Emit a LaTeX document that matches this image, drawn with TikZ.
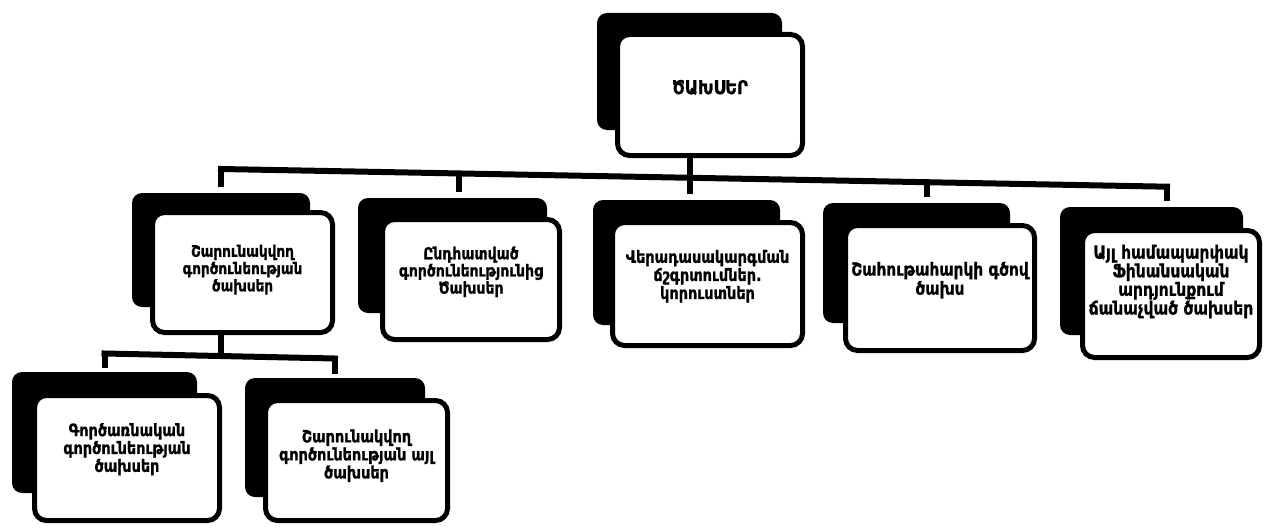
\documentclass[tikz,border=0pt]{standalone}
\usepackage{fontspec}
\newfontfamily\arm{DejaVu Sans}[FakeStretch=0.85, BoldFeatures={FakeBold=1}]
\usetikzlibrary{backgrounds}
\newcommand{\uptext}[2]{\raisebox{#1}[\height][\depth]{\begin{tabular}{@{}c@{}}#2\end{tabular}}}
\tikzset{
  shadowbox/.style={fill=black, rounded corners=10pt, inner sep=0pt, minimum width=#1},
  frontbox/.style={draw=black, line width=5pt, fill=white, rounded corners=12pt, inner sep=0pt,
    align=center, minimum width=#1},
  conn/.style={line width=6pt, line cap=rect},
  fs/.style 2 args={font=\arm\bfseries\fontsize{#1}{#2}\selectfont},
}
\begin{document}
\begin{tikzpicture}[x=1pt,y=-1pt]
\useasboundingbox (0,0) rectangle (1265,527);
% top
\node[shadowbox=185, minimum height=117] (s0) at (689.5,71.5) {};
\node[frontbox=185, minimum height=121, fs={19}{20}] (f0) at (710,95) {\uptext{5pt}{ԾԱԽՍԵՐ}};
% level 1
\node[shadowbox=178, minimum height=114] (s1) at (221,250) {};
\node[frontbox=180, minimum height=120, fs={16}{17}] (f1) at (242.5,272.5) {\uptext{2pt}{Շարունակվող\\գործունեության\\ծախսեր}};
\node[shadowbox=189, minimum height=115] (s2) at (452.5,255.5) {};
\node[frontbox=177, minimum height=120, fs={16.5}{15.5}] (f2) at (471,279.5) {\uptext{7pt}{Ընդհատված\\գործունեությունից\\Ծախսեր}};
\node[shadowbox=187, minimum height=125] (s3) at (686.5,262.5) {};
\node[frontbox=190, minimum height=123, fs={17}{17}] (f3) at (707.5,284) {\uptext{7pt}{Վերադասակարգման\\ճշգրտումներ.\\կորուստներ}};
\node[shadowbox=187, minimum height=120] (s4) at (916.5,263) {};
\node[frontbox=189, minimum height=125, fs={18}{18}] (f4) at (940,288) {\uptext{7pt}{Շահութահարկի գծով\\ծախս}};
\node[shadowbox=183, minimum height=128] (s5) at (1151.5,271) {};
\node[frontbox=177, minimum height=127, fs={18.3}{15.5}] (f5) at (1171,294) {\uptext{12pt}{Այլ համապարփակ\\Ֆինանսական\\արդյունքում\\ճանաչված ծախսեր}};
% level 2
\node[shadowbox=185, minimum height=121] (sL) at (104.5,432.5) {};
\node[frontbox=185, minimum height=125, fs={17}{16.5}] (fL) at (127,458) {\uptext{8pt}{Գործառնական\\գործունեության\\ծախսեր}};
\node[shadowbox=180, minimum height=119] (sR) at (335,437.5) {};
\node[frontbox=182, minimum height=120, fs={17}{17}] (fR) at (356.5,460.5) {\uptext{4pt}{Շարունակվող\\գործունեության այլ\\ծախսեր}};
% junctions
\coordinate (j1) at (221,169);
\coordinate (j2) at (459,173.5);
\coordinate (j3) at (689.5,178);
\coordinate (j4) at (927,182.3);
\coordinate (j5) at (1167,186.7);
\coordinate (k1) at (104.5,353.5);
\coordinate (k2) at (221,356);
\coordinate (k3) at (335,358.5);
\begin{pgfonlayer}{background}
\draw[conn] (j1) -- (j5);
\draw[conn] (s0.south) -- (j3);
\foreach \i in {1,...,5} {
  \draw[conn, shorten >=9pt] (j\i) -- (j\i |- s\i.north);
}
\draw[conn] (k1) -- (k3);
\draw[conn] (s1.south) -- (k2);
\draw[conn, shorten >=7pt] (k1) -- (k1 |- sL.north);
\draw[conn, shorten >=7pt] (k3) -- (k3 |- sR.north);
\end{pgfonlayer}
\end{tikzpicture}
\end{document}
